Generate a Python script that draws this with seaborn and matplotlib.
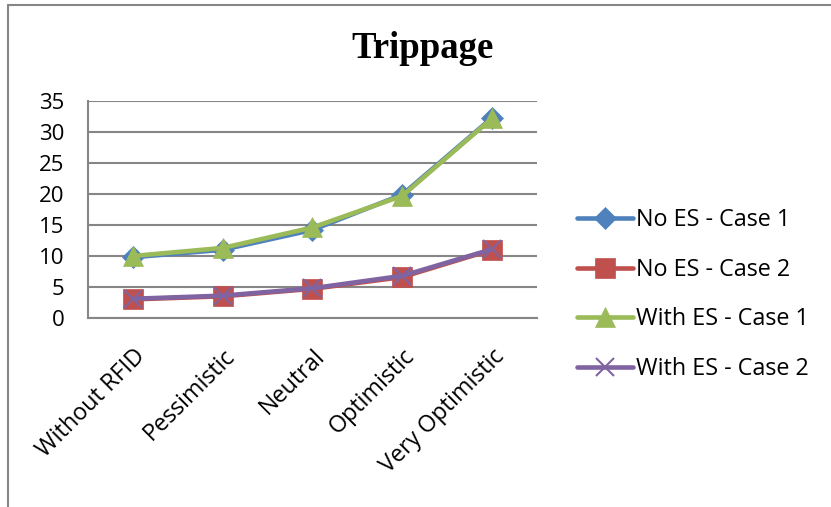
import pandas as pd
import numpy as np
import matplotlib
matplotlib.use('Agg')
import matplotlib.pyplot as plt
import seaborn as sns
from matplotlib.lines import Line2D

# categories and series
scenarios = ['Without RFID', 'Pessimistic', 'Neutral', 'Optimistic', 'Very Optimistic']
no_es_case1 = [9.8, 11.0, 14.2, 19.9, 32.3]
no_es_case2 = [3.0, 3.5, 4.7, 6.6, 11.0]
with_es_case1 = [10.0, 11.3, 14.6, 19.7, 32.2]
with_es_case2 = [3.1, 3.6, 4.8, 6.8, 11.1]
series_names = ['No ES - Case 1', 'No ES - Case 2', 'With ES - Case 1', 'With ES - Case 2']
y_ticks = [0, 5, 10, 15, 20, 25, 30, 35]

sns.set_style('white')
plt.rcParams['font.family'] = ['Open Sans', 'DejaVu Sans']
plt.rcParams['text.color'] = 'black'
plt.rcParams['xtick.color'] = 'black'
plt.rcParams['ytick.color'] = 'black'

data = pd.DataFrame({
    'Scenario': scenarios * 4,
    'Trippage': no_es_case1 + no_es_case2 + with_es_case1 + with_es_case2,
    'Series': np.repeat(series_names, len(scenarios)),
})
data['x'] = data['Scenario'].map({s: i for i, s in enumerate(scenarios)})

colors = ['#4F81BD', '#C0504D', '#9BBB59', '#8064A2']
markers = ['D', 's', '^', 'x']
msizes = [11, 14, 14, 13]

fig = plt.figure(figsize=(8.31, 5.07), dpi=100)
ax = fig.add_axes([0.1059, 0.3728, 0.5403, 0.428])

for name, c, m, ms in zip(series_names, colors, markers, msizes):
    sub = data[data['Series'] == name]
    sns.lineplot(data=sub, x='x', y='Trippage', ax=ax, color=c, linewidth=3.3,
                 marker=m, markersize=ms, markeredgecolor=c, markeredgewidth=1.5 if m == 'x' else 0.5,
                 label=name)

ax.set_xlim(-0.5, len(scenarios) - 0.5)
ax.set_ylim(0, 35)
ax.set_yticks(y_ticks)
ax.set_xticks(range(len(scenarios)))
ax.set_xticklabels(scenarios, rotation=45, ha='right', rotation_mode='anchor', fontsize=16.8)
ax.tick_params(axis='y', labelsize=16, length=0, pad=17)
ax.tick_params(axis='x', length=0, pad=19)
ax.set_xlabel('')
ax.set_ylabel('')
ax.yaxis.grid(True, color='#868686', linewidth=1.5)
ax.set_axisbelow(True)
for side in ['top', 'right']:
    ax.spines[side].set_visible(False)
for side in ['left', 'bottom']:
    ax.spines[side].set_color('#868686')
    ax.spines[side].set_linewidth(1.5)

fig.text(0.508, 0.905, 'Trippage', fontsize=26.5, fontweight='bold',
         family='Liberation Serif', ha='center', va='center', color='black')

ax.legend(loc='center left', bbox_to_anchor=(0.683, 0.419), bbox_transform=fig.transFigure,
          frameon=False, fontsize=16.8, handlelength=2.4, handletextpad=0.15, labelspacing=1.1,
          borderaxespad=0)

# chart frame (top and left edges visible in the reference)
fig.add_artist(Line2D([0.0096, 1.0], [0.990, 0.990], color='#868686', linewidth=1.5))
fig.add_artist(Line2D([0.0096, 0.0096], [0.0, 0.990], color='#868686', linewidth=1.5))

fig.savefig('out.png', dpi=100)
